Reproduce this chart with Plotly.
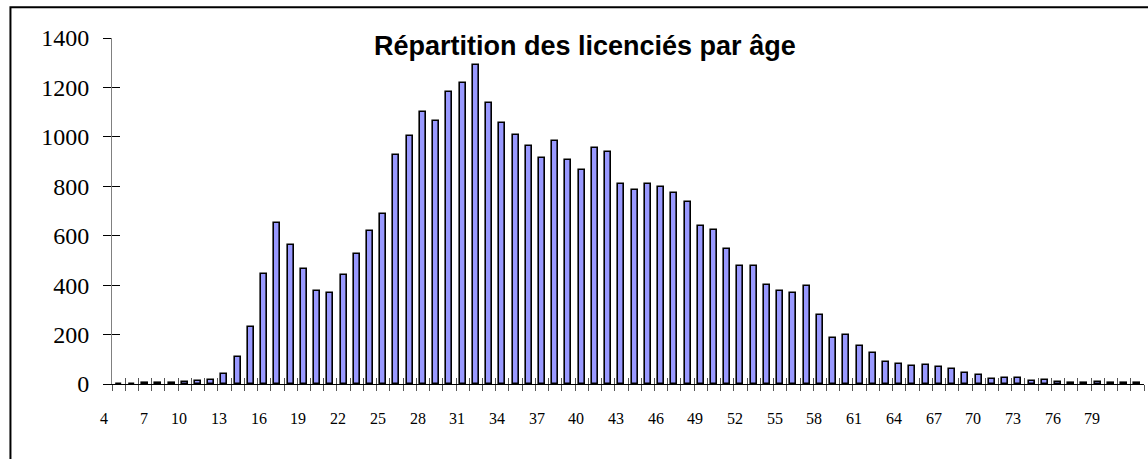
import plotly.graph_objects as go

# ages (categories) and number of licence holders per age
ages = list(range(4, 82))
licencies = [0, 0, 5, 5, 5, 8, 11, 16, 42, 108,
             232, 444, 653, 561, 464, 375, 367, 440, 526, 618,
             688, 925, 1003, 1099, 1063, 1183, 1218, 1292, 1138, 1055,
             1009, 962, 913, 985, 906, 867, 956, 937, 809, 784,
             809, 798, 773, 738, 639, 623, 546, 476, 477, 400,
             378, 370, 396, 279, 186, 199, 152, 125, 91, 81,
             71, 75, 68, 62, 46, 36, 20, 24, 25, 12,
             16, 8, 4, 4, 7, 3, 3, 3]
label_ages = list(range(4, 82, 3))
y_ticks = [0, 200, 400, 600, 800, 1000, 1200, 1400]

title = "Répartition des licenciés par âge"

# tick marks sit on category boundaries, labels every third category
boundaries = [a - 0.5 for a in ages] + [ages[-1] + 0.5]
x_range = [ages[0] - 0.5, ages[-1] + 0.5]

serif = "Liberation Serif, Times New Roman, serif"

fig = go.Figure()
fig.add_trace(go.Bar(
    x=ages, y=licencies, width=0.45,
    marker=dict(color="#9999ff", line=dict(color="black", width=1.6)),
    showlegend=False,
))
# invisible point so the overlay axes (inner half of crossing ticks) get drawn
fig.add_trace(go.Scatter(x=[ages[0]], y=[0], xaxis="x2", yaxis="y2",
                         mode="markers", marker=dict(opacity=0),
                         showlegend=False, hoverinfo="skip"))

# age labels, ending just left of the tick that opens their category
# (text rotation is not rendered here, so they stay level)
for a in label_ages:
    fig.add_annotation(x=a - 0.5, xref="x", y=0, yref="paper",
                       text=str(a), showarrow=False,
                       xanchor="right", yanchor="middle", xshift=-2, yshift=-34,
                       font=dict(family=serif, size=16, color="black"))

fig.add_annotation(text="<b>" + title + "</b>", xref="paper", yref="paper",
                   x=0.458, y=0.978, xanchor="center", yanchor="middle",
                   showarrow=False,
                   font=dict(family="Liberation Sans, Arial, sans-serif", size=27, color="black"))

fig.update_layout(
    width=1148, height=459,
    margin=dict(l=112, r=4, t=38, b=75),
    paper_bgcolor="white", plot_bgcolor="white",
    bargap=0,
    xaxis=dict(range=x_range, tickmode="array", tickvals=boundaries, showticklabels=False,
               ticks="outside", ticklen=6, tickcolor="#555", tickwidth=1,
               showline=True, linecolor="black", linewidth=1,
               showgrid=False, zeroline=False),
    xaxis2=dict(range=x_range, overlaying="x", anchor="y", side="bottom",
                tickmode="array", tickvals=boundaries, showticklabels=False,
                ticks="inside", ticklen=6, tickcolor="#555", tickwidth=1,
                showline=False, showgrid=False, zeroline=False),
    yaxis=dict(range=[0, 1400], tickmode="array", tickvals=y_ticks,
               ticks="outside", ticklen=8, tickcolor="black", tickwidth=1,
               showline=True, linecolor="#808080", linewidth=1,
               showgrid=False, zeroline=False, ticklabelstandoff=9,
               tickfont=dict(family=serif, size=24, color="black")),
    yaxis2=dict(range=[0, 1400], overlaying="y", anchor="x", side="left",
                tickmode="array", tickvals=y_ticks, showticklabels=False,
                ticks="inside", ticklen=8, tickcolor="black", tickwidth=1,
                showline=False, showgrid=False, zeroline=False),
    # outer chart frame (runs off the right and bottom of the picture)
    shapes=[dict(type="rect", xref="paper", yref="paper",
                 x0=-0.0984, x1=1.2, y0=-0.5, y1=1.089,
                 line=dict(color="black", width=2), fillcolor="rgba(0,0,0,0)", layer="below")],
)

# drop the default 8px page margin so the figure sits at the window corner
fig.write_html("out.html", config={"displayModeBar": False},
               post_script="document.body.style.margin = '0';")
